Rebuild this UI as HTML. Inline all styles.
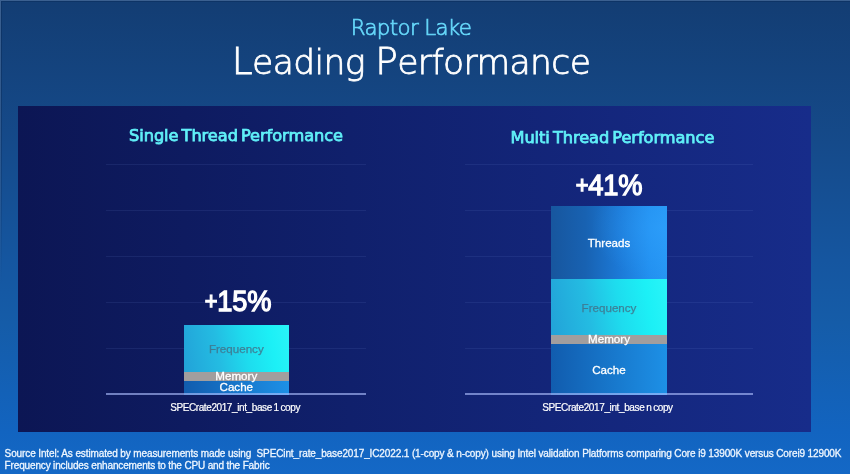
<!DOCTYPE html>
<html><head><meta charset="utf-8">
<style>
*{margin:0;padding:0;box-sizing:border-box}
html,body{width:850px;height:474px;overflow:hidden}
body{position:relative;font-family:"Liberation Sans",sans-serif;
background:linear-gradient(180deg,#133d73 0%,#154a8a 30%,#1556a0 55%,#155ca8 68%,#1264c0 91%,#1468c6 100%);}
.abs{position:absolute}
.tx{position:absolute;white-space:nowrap;line-height:1;text-align:center}
#raptor{left:0;width:822px;top:17px;font-size:22px;transform:scaleX(0.97);letter-spacing:-0.66px;color:#66d8fa;font-family:"DejaVu Sans",sans-serif;font-weight:200;-webkit-text-stroke:0.7px #66d8fa}
#lead .cap{font-size:1.087em}
#lead{left:0;width:822px;top:43px;font-size:34.5px;transform:scaleX(1);letter-spacing:-0.6px;color:#fff;font-family:"DejaVu Sans",sans-serif;font-weight:200;-webkit-text-stroke:0.8px #fff}
#panel{left:18px;top:106px;width:793px;height:326px;
background:linear-gradient(90deg,#0c1654 0%,#10206c 42%,#172c8a 100%)}
.grid{position:absolute;height:1px;background:rgba(120,150,230,0.115)}
.base{position:absolute;height:2px;background:rgba(175,192,255,0.62)}
.ttl{font-family:"DejaVu Sans",sans-serif;font-size:16.2px;letter-spacing:-0.05px;word-spacing:-2px;color:#60f0f8;-webkit-text-stroke:0.75px #60f0f8}
.pct{font-size:29px;color:#fff;-webkit-text-stroke:1.3px #fff;letter-spacing:-0.2px;transform:scaleX(0.94)}
.seg{position:absolute}
.pl{font-size:0.8em;vertical-align:0.1em}
.lbl{font-size:11.6px;color:#fff;-webkit-text-stroke:0.3px #fff}
.fq{color:rgba(65,118,140,0.85) !important;-webkit-text-stroke:0.25px rgba(65,118,140,0.85) !important}
.xl{font-size:10px;color:#fff;letter-spacing:-0.4px;word-spacing:-0.6px;-webkit-text-stroke:0.2px #fff}
.ft{text-align:left;left:4.6px;font-size:10px;color:#eef6ff;letter-spacing:-0.15px;-webkit-text-stroke:0.3px #eef6ff}
</style></head>
<body>
<div class="tx" id="raptor">Raptor Lake</div>
<div class="tx" id="lead"><span class="cap">L</span>eading <span class="cap">P</span>erformance</div>
<div class="abs" id="panel"></div>
<div class="abs" style="left:0;top:0;width:850px;height:1px;background:#3b6090"></div>
<div class="abs" style="left:0;top:1px;width:850px;height:1px;background:#0e3466"></div>
<div class="abs" style="left:0;top:0;width:1px;height:474px;background:linear-gradient(180deg,#3b6090,rgba(59,96,144,0.5) 40%,rgba(59,96,144,0) 60%)"></div>
<div class="abs" style="left:1px;top:1px;width:1px;height:473px;background:linear-gradient(180deg,#0e3466,rgba(14,52,102,0.4) 40%,rgba(14,52,102,0) 60%)"></div>

<!-- left chart -->
<div class="grid" style="left:106px;width:260px;top:164px"></div>
<div class="grid" style="left:106px;width:260px;top:210px"></div>
<div class="grid" style="left:106px;width:260px;top:256px"></div>
<div class="grid" style="left:106px;width:260px;top:302px"></div>
<div class="grid" style="left:106px;width:260px;top:348px"></div>
<div class="tx ttl" id="t1" style="left:106px;width:260px;top:128px">Single Thread Performance</div>
<div class="tx pct" id="p1" style="left:107.6px;width:260px;top:287px"><span class="pl">+</span>15%</div>
<div class="seg" style="left:184px;width:104.6px;top:325px;height:47px;background:linear-gradient(80deg,#22a2d8 0%,#24bce2 33%,#1edcee 58%,#1cf0f6 82%,#2af4f8 100%)"></div>
<div class="seg" style="left:184px;width:104.6px;top:372px;height:9px;background:#a19e9e"></div>
<div class="seg" style="left:184px;width:104.6px;top:381px;height:14px;background:linear-gradient(90deg,#115cae,#1d90e6)"></div>
<div class="tx lbl fq" id="f1" style="left:184px;width:104.6px;top:343px">Frequency</div>
<div class="tx lbl" id="m1" style="left:184px;width:104.6px;top:370px">Memory</div>
<div class="tx lbl" id="c1" style="left:184px;width:104.6px;top:381px">Cache</div>
<div class="base" style="left:106px;width:260px;top:393px"></div>
<div class="tx xl" id="x1" style="left:105.1px;width:260px;top:403px">SPECrate2017_int_base 1 copy</div>

<!-- right chart -->
<div class="grid" style="left:465px;width:288px;top:164px"></div>
<div class="grid" style="left:465px;width:288px;top:210px"></div>
<div class="grid" style="left:465px;width:288px;top:256px"></div>
<div class="grid" style="left:465px;width:288px;top:302px"></div>
<div class="grid" style="left:465px;width:288px;top:348px"></div>
<div class="tx ttl" id="t2" style="left:468.4px;width:288px;top:130px">Multi Thread Performance</div>
<div class="tx pct" id="p2" style="left:465px;width:288px;top:171px"><span class="pl">+</span>41%</div>
<div class="seg" style="left:551px;width:116px;top:206px;height:73px;background:radial-gradient(ellipse 60% 70% at 95% 30%,rgba(50,165,255,0.45),rgba(50,165,255,0) 100%),linear-gradient(90deg,#17569e 0%,#1862b2 30%,#1c7ad8 60%,#2290f0 85%,#2696f4 100%)"></div>
<div class="seg" style="left:551px;width:116px;top:279px;height:56px;background:linear-gradient(80deg,#22a2d8 0%,#24bce2 33%,#1edcee 58%,#1cf0f6 82%,#2af4f8 100%)"></div>
<div class="seg" style="left:551px;width:116px;top:335px;height:9px;background:#a19e9e"></div>
<div class="seg" style="left:551px;width:116px;top:344px;height:51px;background:linear-gradient(90deg,#115cae,#1d90e6)"></div>
<div class="tx lbl" id="th" style="left:551px;width:116px;top:237px">Threads</div>
<div class="tx lbl fq" id="f2" style="left:551px;width:116px;top:302px">Frequency</div>
<div class="tx lbl" id="m2" style="left:551px;width:116px;top:333px">Memory</div>
<div class="tx lbl" id="c2" style="left:551px;width:116px;top:363.5px">Cache</div>
<div class="base" style="left:465px;width:288px;top:393px"></div>
<div class="tx xl" id="x2" style="left:463.5px;width:288px;top:403px;letter-spacing:-0.38px">SPECrate2017_int_base n copy</div>

<div class="tx ft" id="foot1" style="top:448.7px;letter-spacing:-0.118px">Source Intel: As estimated by measurements made using &nbsp;SPECint_rate_base2017_IC2022.1 (1-copy &amp; n-copy) using Intel validation Platforms comparing Core i9 13900K versus Corei9 12900K</div>
<div class="tx ft" id="foot2" style="top:460.5px">Frequency includes enhancements to the CPU and the Fabric</div>
</body></html>
